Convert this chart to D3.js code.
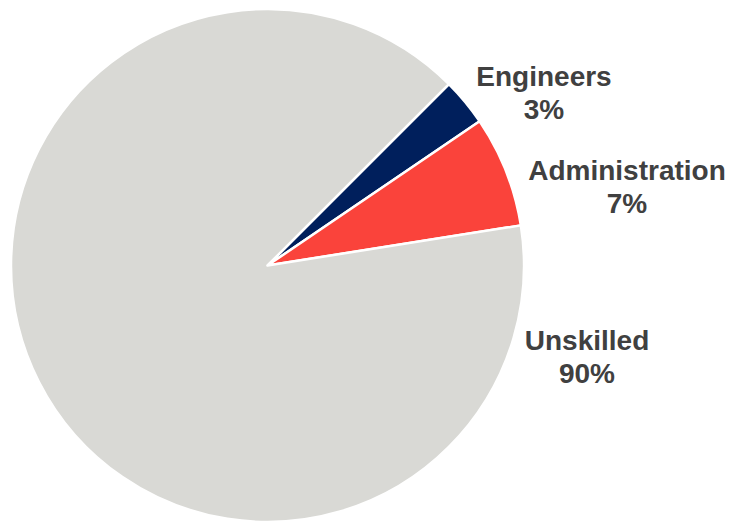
<!DOCTYPE html>
<html>
<head>
<meta charset="utf-8">
<script src="https://cdn.jsdelivr.net/npm/d3@7"></script>
<style>
  html, body { margin: 0; padding: 0; background: #ffffff; }
  svg { display: block; }
</style>
</head>
<body>
<svg id="chart" width="731" height="521"></svg>
<script>
// ---- data ----
const categories = ["Engineers", "Administration", "Unskilled"];
const values = [3, 7, 90];
const percentLabels = ["3%", "7%", "90%"];
const colors = ["#001f5c", "#fa433b", "#d9d9d5"];

// ---- layout (not data) ----
const width = 731, height = 521;
const cx = 267.5, cy = 265.5, radius = 256.5;
const startDeg = 45;
const labelLayout = {
  "Engineers":      { x: 544, y: 86 },
  "Administration": { x: 627, y: 180 },
  "Unskilled":      { x: 587, y: 350 }
};
const lineHeight = 33;
const fontSize = 28;

const svg = d3.select("#chart");
const g = svg.append("g").attr("transform", `translate(${cx},${cy})`);

const start = startDeg * Math.PI / 180;
const pie = d3.pie().sort(null).value(d => d.value)
  .startAngle(start).endAngle(start + 2 * Math.PI);

const data = categories.map((c, i) => ({ name: c, value: values[i], pct: percentLabels[i], color: colors[i] }));
const arcs = pie(data);
const arc = d3.arc().innerRadius(0).outerRadius(radius);

g.selectAll("path.slice")
  .data(arcs)
  .join("path")
  .attr("class", "slice")
  .attr("d", arc)
  .attr("fill", d => d.data.color)
  .attr("stroke", "#ffffff")
  .attr("stroke-width", 2.5)
  .attr("stroke-linejoin", "round");

const labels = svg.selectAll("text.lbl")
  .data(arcs)
  .join("text")
  .attr("class", "lbl")
  .attr("text-anchor", "middle")
  .attr("font-family", "'Liberation Sans', Arial, sans-serif")
  .attr("font-weight", "bold")
  .attr("font-size", fontSize)
  .attr("fill", "#404040");

labels.append("tspan")
  .attr("x", d => labelLayout[d.data.name].x)
  .attr("y", d => labelLayout[d.data.name].y)
  .text(d => d.data.name);
labels.append("tspan")
  .attr("x", d => labelLayout[d.data.name].x)
  .attr("y", d => labelLayout[d.data.name].y + lineHeight)
  .text(d => d.data.pct);
</script>
</body>
</html>
